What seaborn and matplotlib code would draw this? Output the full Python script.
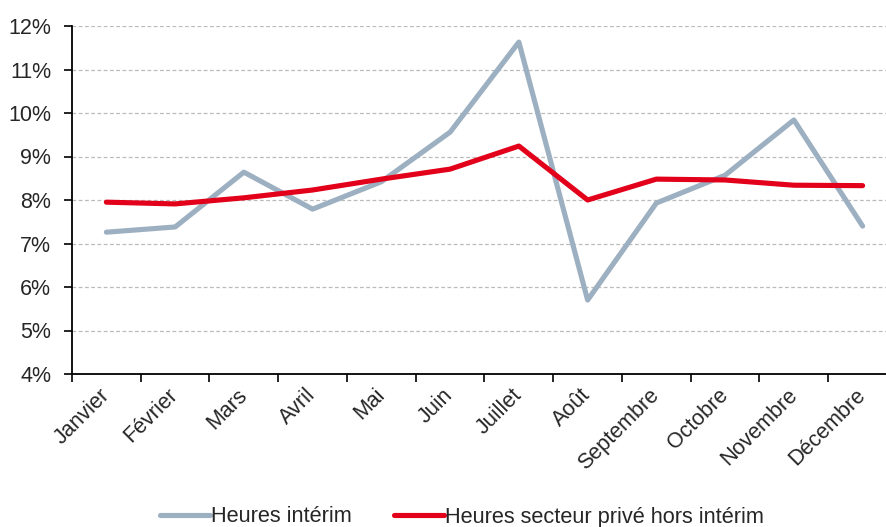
import matplotlib
matplotlib.use('Agg')
import matplotlib.pyplot as plt
import seaborn as sns
import pandas as pd
from matplotlib.ticker import FuncFormatter, FixedLocator

# data (in %)
mois = ['Janvier', 'Février', 'Mars', 'Avril', 'Mai', 'Juin', 'Juillet',
        'Août', 'Septembre', 'Octobre', 'Novembre', 'Décembre']
interim = [7.26, 7.38, 8.64, 7.79, 8.42, 9.56, 11.63, 5.70, 7.93, 8.57, 9.84, 7.40]
prive = [7.95, 7.91, 8.05, 8.23, 8.48, 8.71, 9.24, 8.00, 8.48, 8.46, 8.34, 8.33]
series = ['Heures intérim', 'Heures secteur privé hors intérim']
colors = ['#9DB0C1', '#E2001A']

df = pd.DataFrame({
    'mois': mois * 2,
    'x': list(range(len(mois))) * 2,
    'valeur': interim + prive,
    'serie': [series[0]] * len(mois) + [series[1]] * len(mois),
})

sns.set_style('white')
plt.rcParams['font.family'] = ['Liberation Sans', 'DejaVu Sans']

fig = plt.figure(figsize=(8.86, 5.27), dpi=100)
ax = fig.add_axes([72 / 886, 153 / 527, 825 / 886, 348 / 527])

sns.lineplot(data=df, x='x', y='valeur', hue='serie', palette=colors,
             linewidth=3.7, ax=ax, legend=True)

ax.set_ylim(4, 12)
ax.set_xlim(-0.5, len(mois) - 0.5)
ax.set_yticks(range(4, 13))
ax.yaxis.set_major_formatter(FuncFormatter(lambda v, p: f'{v:.0f}%'))
for v in range(5, 13):
    ax.axhline(v, color='#BBBBBB', linestyle=(0, (3, 2)), linewidth=0.9, zorder=0)

# ticks at category boundaries, labels at centers
ax.xaxis.set_major_locator(FixedLocator([i - 0.5 for i in range(len(mois) + 1)]))
ax.xaxis.set_major_formatter(FuncFormatter(lambda v, p: ''))
ax.xaxis.set_minor_locator(FixedLocator(list(range(len(mois)))))
ax.set_xticklabels(mois, minor=True, rotation=45, ha='right', va='center',
                   rotation_mode='anchor', fontsize=15.5)
ax.tick_params(axis='x', which='major', direction='out', length=6, width=1.2,
               color='black', bottom=True)
ax.tick_params(axis='x', which='minor', length=0, pad=13)
ax.tick_params(axis='y', direction='out', length=6, width=1.2, color='black',
               left=True, labelsize=15.5, pad=9)

ax.set_xlabel('')
ax.set_ylabel('')
for s in ['top', 'right']:
    ax.spines[s].set_visible(False)
for s in ['left', 'bottom']:
    ax.spines[s].set_color('black')
    ax.spines[s].set_linewidth(1.3)

handles, labels = ax.get_legend_handles_labels()
ax.get_legend().remove()
fig.legend(handles, labels, loc='center', bbox_to_anchor=(462 / 886, 10 / 527),
           ncol=2, frameon=False, fontsize=15.7, handlelength=2.3, handletextpad=0.05,
           columnspacing=1.9, borderaxespad=0, borderpad=0)

fig.savefig('out.png', dpi=100)
